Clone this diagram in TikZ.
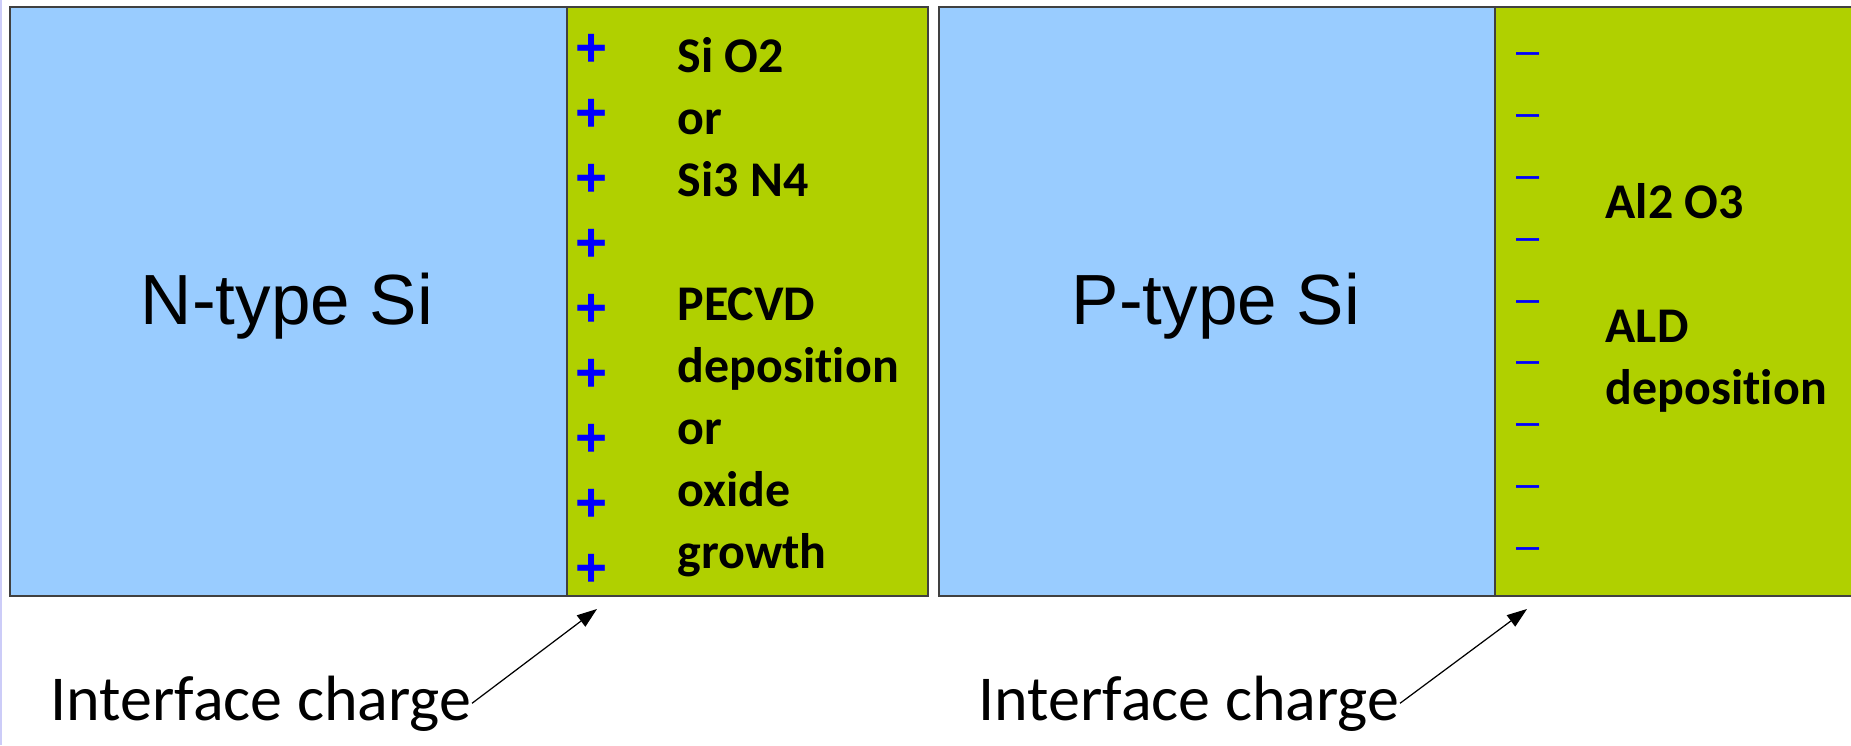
\documentclass[tikz,border=0pt]{standalone}
\usepackage{fontspec}
\setmainfont{Carlito}[Ligatures={TeX,NoCommon}]
\newfontfamily\arialfont{Liberation Sans}
\usetikzlibrary{positioning, arrows.meta}
\definecolor{silicon}{HTML}{99CCFF}
\definecolor{film}{HTML}{B0D000}
\definecolor{edge}{HTML}{404040}
\definecolor{slide}{HTML}{CCCCF8}
\definecolor{charge}{HTML}{0000FF}

\begin{document}
\begin{tikzpicture}[x=0.01cm, y=-0.01cm,
  layer/.style={rectangle, draw=edge, line width=0.45pt, inner sep=0pt,
                anchor=north west, minimum height=5.89cm},
  bulk/.style={font=\arialfont\fontsize{20.2}{24}\selectfont, anchor=base, inner sep=0pt},
  recipe/.style={font=\bfseries\fontsize{14.2}{17.6}\selectfont, anchor=base west, inner sep=0pt},
  poscharge/.style={font=\arialfont\bfseries\fontsize{15.6}{19}\selectfont, text=charge, inner sep=0pt},
  negcharge/.style={font=\arialfont\fontsize{11.8}{14}\selectfont, text=charge, inner sep=0pt},
  callout/.style={font=\fontsize{18.2}{22}\selectfont, anchor=base west, inner sep=0pt},
  pointer/.style={-{Triangle[length=2mm, width=1.4mm]}, line width=0.35pt, black}]
  \useasboundingbox (0,0) rectangle (1851,745);

  % Slide edge
  \fill[slide] (0,0) rectangle (2.5,745);

  % N-type side
  \node[layer, fill=silicon, minimum width=5.57cm] (nsi) at (9,6) {};
  \node[layer, fill=film, minimum width=3.61cm] (nfilm) at (566,6) {};
  \node[bulk] (nlbl) at (287,324) {N-type Si};
  \foreach \k in {0,...,8}
    \node[poscharge] (pos\k) at (592,{50+65*\k}) {+};
  \foreach \k/\t in {0/Si O2, 1/or, 2/Si3 N4, 4/PECVD, 5/deposition, 6/or, 7/oxide, 8/growth}
    \node[recipe] (nrec\k) at (677,{72+62*\k}) {\t};

  % P-type side
  \node[layer, fill=silicon, minimum width=5.56cm] (psi) at (938,6) {};
  \node[layer, fill=film, minimum width=3.70cm] (pfilm) at (1494,6) {};
  \node[bulk] (plbl) at (1216,324) {P-type Si};
  \foreach \k in {0,...,8}
    \node[negcharge] (neg\k) at (1528.5,{58.5+61.9*\k}) {–};
  \foreach \k/\t in {0/Al2 O3, 2/ALD, 3/deposition}
    \node[recipe] (prec\k) at (1605,{218+62*\k}) {\t};

  % Interface charge callouts
  \node[callout] (nchg) at (50,720) {Interface charge};
  \coordinate (ntip) at (597,609);
  \draw[pointer] (nchg.east) -- (ntip);

  \node[callout] (pchg) at (978,720) {Interface charge};
  \coordinate (ptip) at (1527,609);
  \draw[pointer] (pchg.east) -- (ptip);
\end{tikzpicture}
\end{document}
